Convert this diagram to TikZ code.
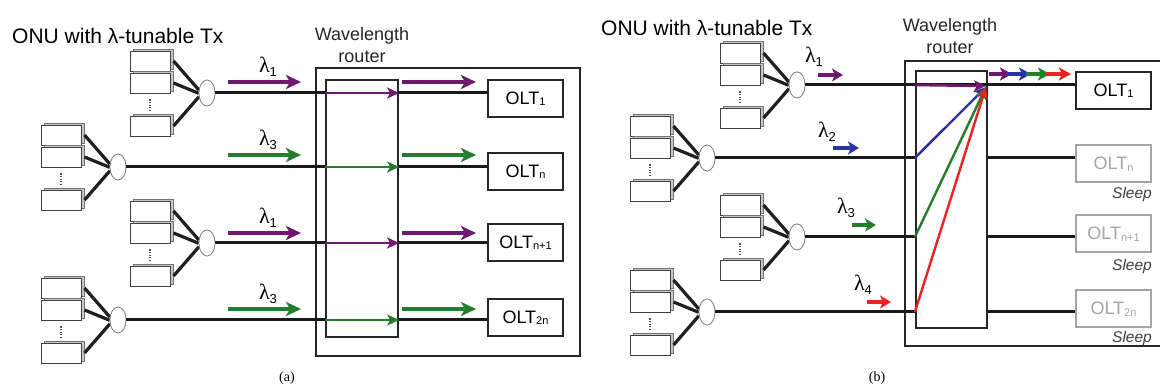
\documentclass[tikz,border=0pt]{standalone}
\usepackage{fontspec}
\setmainfont{Liberation Sans}
\newfontfamily\seriffont{Liberation Serif}
\usetikzlibrary{shapes.geometric,arrows.meta,shadows,calc}
\definecolor{cpur}{RGB}{110,25,110}
\definecolor{cgrn}{RGB}{35,125,45}
\definecolor{cblu}{RGB}{40,50,170}
\definecolor{cred}{RGB}{235,35,35}
\definecolor{cgry}{RGB}{165,165,165}
\newcommand\olttext[1]{OLT\raisebox{-1.5pt}{\fontsize{11}{11}\selectfont #1}}
\newcommand\lam[1]{{\seriffont\fontsize{22}{22}\selectfont λ}\raisebox{-4pt}{\fontsize{13}{13}\selectfont #1}}
\tikzset{
  onubox/.style={draw=black!75, line width=1pt, fill=white, minimum width=40pt, minimum height=20pt, inner sep=0pt,
    general shadow={fill=black!22, draw=black!55, line width=0.7pt, shadow xshift=3pt, shadow yshift=3pt}},
  coupler/.style={ellipse, draw=black!50, line width=0.7pt, fill=white, minimum width=16pt, minimum height=26pt, inner sep=0pt},
  fiber/.style={line width=3pt, black!90},
  feed/.style={line width=3.2pt, black!88},
  dotsline/.style={line width=1.8pt, black!70, dash pattern=on 1.2pt off 1.4pt},
  olt/.style={draw=black!85, line width=2.4pt, minimum width=75pt, minimum height=37pt, inner sep=0pt, font=\fontsize{18}{18}\selectfont},
  oltsleep/.style={olt, draw=cgry, text=cgry, line width=2pt},
  routerbox/.style={draw=black!85, line width=2.2pt, inner sep=0pt},
  lamarrow/.style={line width=3.6pt, -{Stealth[length=15pt,width=14pt,inset=4pt]}},
  smallarrow/.style={line width=3.4pt, -{Stealth[length=11pt,width=13pt,inset=3pt]}},
  inarrow/.style={line width=2.6pt, -{Stealth[length=12pt,width=11pt,inset=3pt]}},
  chainarrow/.style={line width=3.2pt, -{Stealth[length=12pt,width=13pt,inset=3pt]}},
  title/.style={font=\fontsize{21}{21}\selectfont, anchor=west, inner sep=0pt},
  rlabel/.style={font=\fontsize{18}{22}\selectfont, align=center, inner sep=0pt, text=black!85},
  sleep/.style={font=\fontsize{15.5}{15.5}\selectfont\itshape, text=black!75, anchor=east, inner sep=0pt},
  panel/.style={font=\seriffont\fontsize{14}{14}\selectfont, inner sep=0pt},
  laml/.style={inner sep=0pt}
}
\newcommand\onugroup[3]{%
  \node[coupler] (#1c) at (#2,#3) {};
  \node[onubox] (#1b1) at (#2-57,#3-31) {};
  \node[onubox] (#1b2) at (#2-57,#3-9) {};
  \node[onubox] (#1b3) at (#2-57,#3+34) {};
  \draw[dotsline] ($(#1b2.south)+(0,5)$) -- ($(#1b3.north)+(0,-6)$);
  \draw[feed] ([xshift=3pt,yshift=1pt]#1b1.east) -- (#1c.160);
  \draw[feed] ([xshift=3pt,yshift=1pt]#1b2.east) -- (#1c.182);
  \draw[feed] ([xshift=3pt,yshift=1pt]#1b3.east) -- (#1c.205);
  \node[coupler] at (#1c) {};
}
\begin{document}
\begin{tikzpicture}[x=1pt,y=-1pt]
\clip (0,0) rectangle (1160,387);
\fill[white] (0,0) rectangle (1160,387);

% ================= panel (a) =================
\node[title] (ta) at (12,36) {ONU with λ-tunable Tx};
\onugroup{a1}{207}{93}
\onugroup{a2}{118}{167}
\onugroup{a3}{207}{243}
\onugroup{a4}{118}{320}

\node[routerbox, minimum width=264pt, minimum height=288pt] (roa) at (448,212) {};
\node[routerbox, minimum width=72pt, minimum height=257pt] (ria) at (362,208.5) {};
\node[rlabel] (wla) at (362,45) {Wavelength\\router};

\node[olt] (oa1) at (525.5,98.5) {\olttext{1}};
\node[olt] (oa2) at (525.5,171.5) {\olttext{n}};
\node[olt] (oa3) at (525.5,242.5) {\olttext{n+1}};
\node[olt] (oa4) at (525.5,317.5) {\olttext{2n}};

\foreach \g/\o/\c in {a1/oa1/cpur, a2/oa2/cgrn, a3/oa3/cpur, a4/oa4/cgrn}{
  \draw[fiber] (\g c.east) -- (\g c.east -| ria.west);
  \draw[fiber] (\g c.east -| ria.east) -- (\g c.east -| \o.west);
  \draw[inarrow, \c] (\g c.east -| ria.west) -- (\g c.east -| ria.east);
}

\foreach \y/\c/\n in {82/cpur/1, 155/cgrn/3, 233/cpur/1, 309/cgrn/3}{
  \draw[lamarrow, \c] (228,\y) -- (301,\y);
  \draw[lamarrow, \c] (402,\y) -- (476,\y);
  \node[laml] at (268,\y-15) {\lam{\n}};
}
\node[panel] (pa) at (287,378) {(a)};

% ================= panel (b) =================
\node[title] (tb) at (601,28) {ONU with λ-tunable Tx};
\onugroup{b1}{797}{85}
\onugroup{b2}{707}{158}
\onugroup{b3}{797}{237}
\onugroup{b4}{707}{312}

\node[routerbox, minimum width=275pt, minimum height=285pt] (rob) at (1042.5,203.5) {};
\node[routerbox, minimum width=71pt, minimum height=257pt] (rib) at (951.5,199.5) {};
\node[rlabel] (wlb) at (950,36) {Wavelength\\router};

\node[olt] (ob1) at (1113.5,90.5) {\olttext{1}};
\node[oltsleep] (ob2) at (1113.5,164) {\olttext{n}};
\node[oltsleep] (ob3) at (1113.5,234) {\olttext{n+1}};
\node[oltsleep] (ob4) at (1113.5,309) {\olttext{2n}};
\node[sleep] at (1152,194) {Sleep};
\node[sleep] at (1152,266) {Sleep};
\node[sleep] at (1152,338) {Sleep};

\coordinate (cv) at (986,87);
\foreach \g/\o in {b1/ob1, b2/ob2, b3/ob3, b4/ob4}{
  \draw[fiber] (\g c.east) -- (\g c.east -| rib.west);
  \draw[fiber] (\g c.east -| rib.east) -- (\g c.east -| \o.west);
}
\draw[fiber] (b1c.east -| rib.west) -- (b1c.east -| rib.east);
\draw[inarrow, cpur] (b1c.east -| rib.west) -- ([yshift=1pt]cv);
\draw[inarrow, cblu, line width=2.4pt] (b2c.east -| rib.west) -- (cv);
\draw[inarrow, cgrn, line width=2.4pt] (b3c.east -| rib.west) -- (cv);
\draw[inarrow, cred, line width=2.4pt] (b4c.east -| rib.west) -- (cv);

\draw[chainarrow, cpur] (989,74) -- (1012,74);
\draw[chainarrow, cblu] (1007,74) -- (1031,74);
\draw[chainarrow, cgrn] (1026,74) -- (1050,74);
\draw[chainarrow, cred] (1045,74) -- (1071,74);

\draw[smallarrow, cpur] (818,75) -- (843,75);
\node[laml] at (814,57) {\lam{1}};
\draw[smallarrow, cblu] (833,148) -- (859,148);
\node[laml] at (827,132) {\lam{2}};
\draw[smallarrow, cgrn] (852,225) -- (876,225);
\node[laml] at (846,208) {\lam{3}};
\draw[smallarrow, cred] (867,302) -- (891,302);
\node[laml] at (863,285) {\lam{4}};

\node[panel] (pb) at (877,378) {(b)};
\end{tikzpicture}
\end{document}
